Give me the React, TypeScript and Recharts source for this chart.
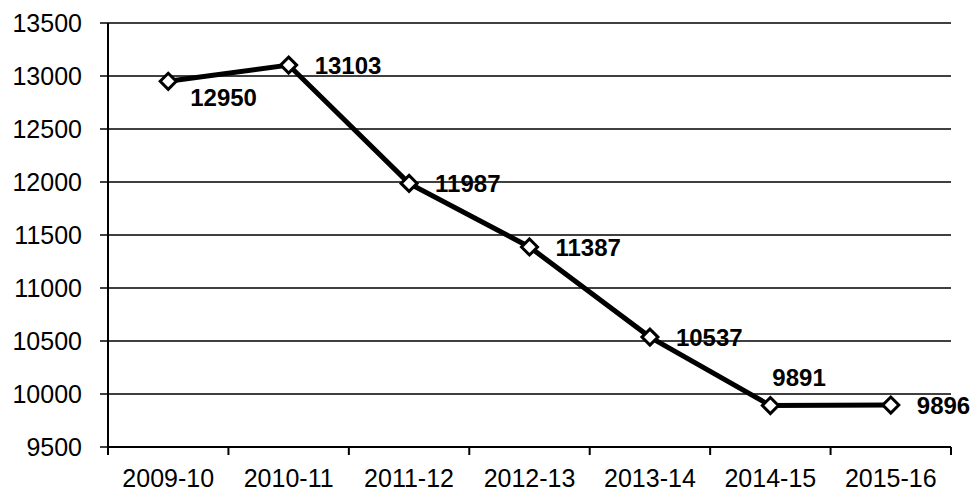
import React from "react";
import { LineChart, Line, XAxis, YAxis, CartesianGrid, LabelList } from "recharts";

const years = ["2009-10", "2010-11", "2011-12", "2012-13", "2013-14", "2014-15", "2015-16"];
const values = [12950, 13103, 11987, 11387, 10537, 9891, 9896];
const yTicks = [9500, 10000, 10500, 11000, 11500, 12000, 12500, 13000, 13500];
// where each value label sits relative to its marker
const labelSpots = ["below", "right", "right", "right", "right", "above", "right"];

const data = years.map((y, i) => ({ i, year: y, v: values[i] }));
const xTicks = [-0.5, ...years.flatMap((_, i) => [i, i + 0.5])];

const FONT = "'Liberation Sans', Arial, sans-serif";

function XTick(props: any) {
  const { x, y, payload } = props;
  const val = payload.value;
  if (Number.isInteger(val)) {
    return (
      <text x={x} y={y + 40} textAnchor="middle" fontSize={25} fontFamily={FONT} fill="#000">
        {years[val]}
      </text>
    );
  }
  return <line x1={x} x2={x} y1={y} y2={y + 8} stroke="#000" strokeWidth={2} />;
}

function Diamond(props: any) {
  const { cx, cy } = props;
  if (cx == null || cy == null) return null;
  const r = 8;
  return (
    <path
      d={`M${cx},${cy - r} L${cx + r},${cy} L${cx},${cy + r} L${cx - r},${cy} Z`}
      fill="#fff"
      stroke="#000"
      strokeWidth={3}
    />
  );
}

function ValueLabel(props: any) {
  const { x, y, value, index } = props;
  const spot = labelSpots[index];
  let tx = x + 26;
  let ty = y + 9;
  if (spot === "below") {
    tx = x + 22;
    ty = y + 25;
  } else if (spot === "above") {
    tx = x + 2;
    ty = y - 20;
  }
  return (
    <text x={tx} y={ty} fontSize={24} fontWeight="bold" fontFamily={FONT} fill="#000">
      {value}
    </text>
  );
}

export default function App() {
  return (
    <div style={{ position: "absolute", left: 0, top: 0, background: "#fff" }}>
      <LineChart width={973} height={491} data={data} margin={{ top: 23, right: 22, bottom: 0, left: 0 }}>
        <CartesianGrid horizontal vertical={false} stroke="#000" strokeWidth={1.5} />
        <XAxis
          dataKey="i"
          type="number"
          domain={[-0.5, 6.5]}
          ticks={xTicks}
          interval={0}
          height={44}
          tickLine={false}
          tickSize={0}
          tickMargin={0}
          tick={<XTick />}
          axisLine={{ stroke: "#000", strokeWidth: 2 }}
        />
        <YAxis
          type="number"
          domain={[9500, 13500]}
          ticks={yTicks}
          interval={0}
          width={108}
          tickSize={8}
          tickMargin={18}
          tickLine={{ stroke: "#000", strokeWidth: 1.5 }}
          axisLine={{ stroke: "#000", strokeWidth: 2 }}
          tick={{ fontSize: 25, fontFamily: FONT, fill: "#000" }}
        />
        <Line
          dataKey="v"
          stroke="#000"
          strokeWidth={5}
          dot={<Diamond />}
          activeDot={false}
          isAnimationActive={false}
        >
          <LabelList dataKey="v" content={<ValueLabel />} />
        </Line>
      </LineChart>
    </div>
  );
}
